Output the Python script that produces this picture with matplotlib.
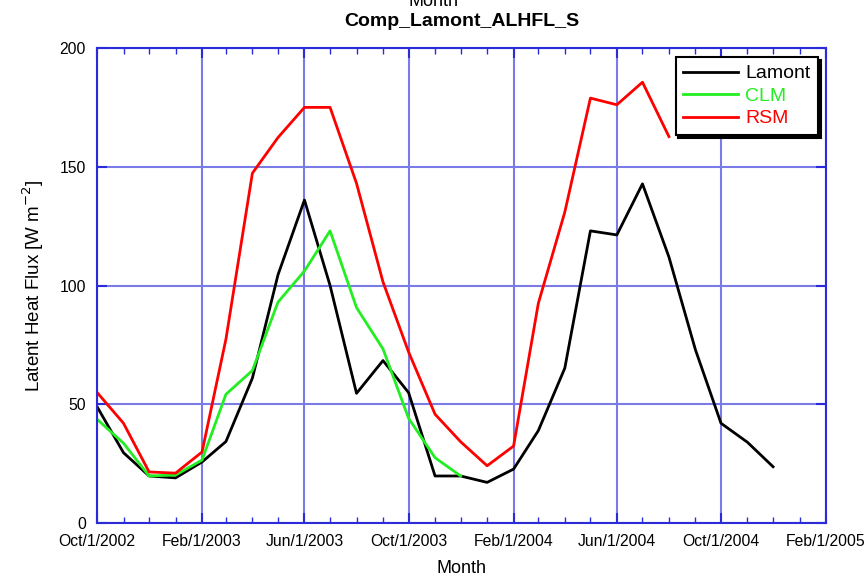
import matplotlib
matplotlib.use('Agg')
import matplotlib.pyplot as plt
import matplotlib.dates as mdates
import pandas as pd

# monthly values, first month Oct 2002
lamont = [49, 29.6, 19.8, 19.0, 25.7, 34.3, 61, 104.5, 136, 100, 54.6, 68.4, 54.9,
          19.8, 19.8, 17.1, 22.7, 38.9, 65.2, 123, 121.3, 142.8, 112, 73, 42, 34, 23.7]
clm = [43.7, 33.6, 19.8, 20.2, 26.5, 54.2, 64.2, 93, 106.1, 123, 90.7, 73.3, 44.1,
       27.5, 19.8]
rsm = [55, 42, 21.5, 21, 29.9, 77.4, 147.3, 162.3, 175, 175, 143, 101.5, 72,
       45.8, 34.2, 24.1, 32.4, 92.5, 130.9, 178.9, 176.1, 185.6, 162.7]

months = pd.date_range('2002-10-01', periods=len(lamont), freq='MS')

plt.rcParams['font.family'] = ['Liberation Sans', 'DejaVu Sans']

fig = plt.figure(figsize=(8.68, 5.79), dpi=100)
ax = fig.add_axes([0.1118, 0.0967, 0.8398, 0.8204])

ax.plot(months[:len(lamont)], lamont, color='black', lw=2, label='Lamont')
ax.plot(months[:len(clm)], clm, color='#22ee22', lw=2, label='CLM')
ax.plot(months[:len(rsm)], rsm, color='#ff0000', lw=2, label='RSM')

ax.set_xlim(pd.Timestamp('2002-10-01'), pd.Timestamp('2005-02-01'))
ax.set_ylim(0, 200)
ax.set_yticks([0, 50, 100, 150, 200])

ax.xaxis.set_major_locator(mdates.MonthLocator(bymonth=[2, 6, 10]))
ax.xaxis.set_minor_locator(mdates.MonthLocator())
ax.xaxis.set_major_formatter(mdates.DateFormatter('%b/1/%Y'))

blue = '#2b2bd9'
for s in ax.spines.values():
    s.set_color(blue)
    s.set_linewidth(1.5)
ax.tick_params(which='both', direction='in', color=blue, top=True, right=True,
               labelsize=11.3)
ax.tick_params(which='major', length=7, width=1.5, pad=8)
ax.tick_params(which='minor', length=4, width=1)
ax.grid(True, which='major', color='#7b7be8', lw=1.5)
ax.set_axisbelow(True)

ax.set_xlabel('Month', fontsize=13, labelpad=8)
ax.set_ylabel('Latent Heat Flux [W m$^{-2}$]', fontsize=13.5, labelpad=10)
ax.set_title('Comp_Lamont_ALHFL_S', fontsize=14, fontweight='bold', pad=16)
fig.text(0.5, 1 - 6 / 579, 'Month', ha='center', va='baseline', fontsize=13)

leg = ax.legend(loc='upper right', bbox_to_anchor=(0.989, 0.981), fancybox=False,
                shadow={'color': 'black', 'alpha': 1}, edgecolor='black',
                labelcolor='linecolor', fontsize=14, handlelength=2.8,
                borderaxespad=0, borderpad=0.4, labelspacing=0.25,
                handletextpad=0.36, framealpha=1)
leg.get_frame().set_linewidth(1.5)

fig.savefig('out.png', dpi=100)
